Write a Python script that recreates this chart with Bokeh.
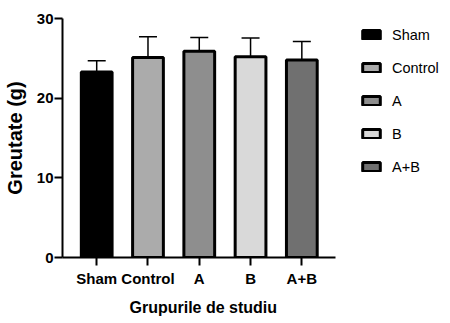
from bokeh.plotting import figure
from bokeh.models import ColumnDataSource, Whisker, Legend, LegendItem, FixedTicker, Title
from bokeh.embed import file_html
from bokeh.resources import INLINE

groups = ["Sham", "Control", "A", "B", "A+B"]
means = [23.3, 25.1, 25.9, 25.2, 24.8]
sds = [1.4, 2.6, 1.7, 2.35, 2.3]
colors = ["#000000", "#ababab", "#8e8e8e", "#d9d9d9", "#707070"]
y_ticks = [0, 10, 20, 30]

xs = list(range(len(groups)))
upper = [m + s for m, s in zip(means, sds)]
src = ColumnDataSource(dict(x=xs, top=means, upper=upper, color=colors, name=groups))

FONT = "Liberation Sans"
# frame spans the whole width right of the y axis; x axis drawn only over the bars
p = figure(width=442, height=322, output_backend="svg", toolbar_location=None,
           x_range=(-0.667, 6.743), y_range=(0, 30),
           min_border_left=53, min_border_top=18, min_border_right=0, min_border_bottom=62)
p.outline_line_color = None
p.xgrid.visible = False
p.ygrid.visible = False

w = Whisker(source=src, base="x", upper="upper", lower="top", dimension="height",
            line_color="black", line_width=1.5, level="underlay")
w.upper_head.size = 18
w.upper_head.line_width = 1.5
w.lower_head = None
p.add_layout(w)

r = p.vbar(x="x", top="top", width=0.6, bottom=0, source=src,
           fill_color="color", line_color="black", line_width=3)

p.xaxis.ticker = FixedTicker(ticks=xs)
p.xaxis.major_label_overrides = {i: g for i, g in zip(xs, groups)}
p.xaxis.bounds = (-0.667, 4.648)
p.yaxis.ticker = FixedTicker(ticks=y_ticks)
for ax in (p.xaxis[0], p.yaxis[0]):
    ax.axis_line_width = 2
    ax.axis_line_color = "black"
    ax.major_tick_line_width = 2
    ax.major_tick_line_color = "black"
    ax.minor_tick_line_color = None
    ax.major_tick_in = 0
    ax.major_label_text_font = FONT
    ax.major_label_text_font_style = "bold"
    ax.major_label_text_font_size = "15px"
    ax.major_label_text_color = "black"
    ax.axis_label_text_font = FONT
    ax.axis_label_text_font_style = "bold"
    ax.axis_label_text_color = "black"

p.xaxis.major_tick_out = 8
p.yaxis.major_tick_out = 8
p.xaxis.major_label_standoff = 4
p.yaxis.major_label_standoff = 1
p.yaxis.axis_label = "Greutate (g)"
p.yaxis.axis_label_text_font_size = "20px"
p.yaxis.axis_label_standoff = 8

xlabel = Title(text="Grupurile de studiu", align="left", offset=67, standoff=14,
               text_font=FONT, text_font_style="bold", text_font_size="16px",
               text_color="black")
p.add_layout(xlabel, "below")

items = [LegendItem(label=g, renderers=[r], index=i) for i, g in enumerate(groups)]
leg = Legend(items=items, location=(298, 74), padding=0, margin=0,
             border_line_color=None, background_fill_alpha=0,
             glyph_width=22, glyph_height=11, label_height=33, spacing=0,
             label_standoff=10, label_text_font=FONT, label_text_font_size="14.5px",
             label_text_color="black")
p.add_layout(leg, "center")

open("out.html", "w").write(file_html(p, INLINE))
